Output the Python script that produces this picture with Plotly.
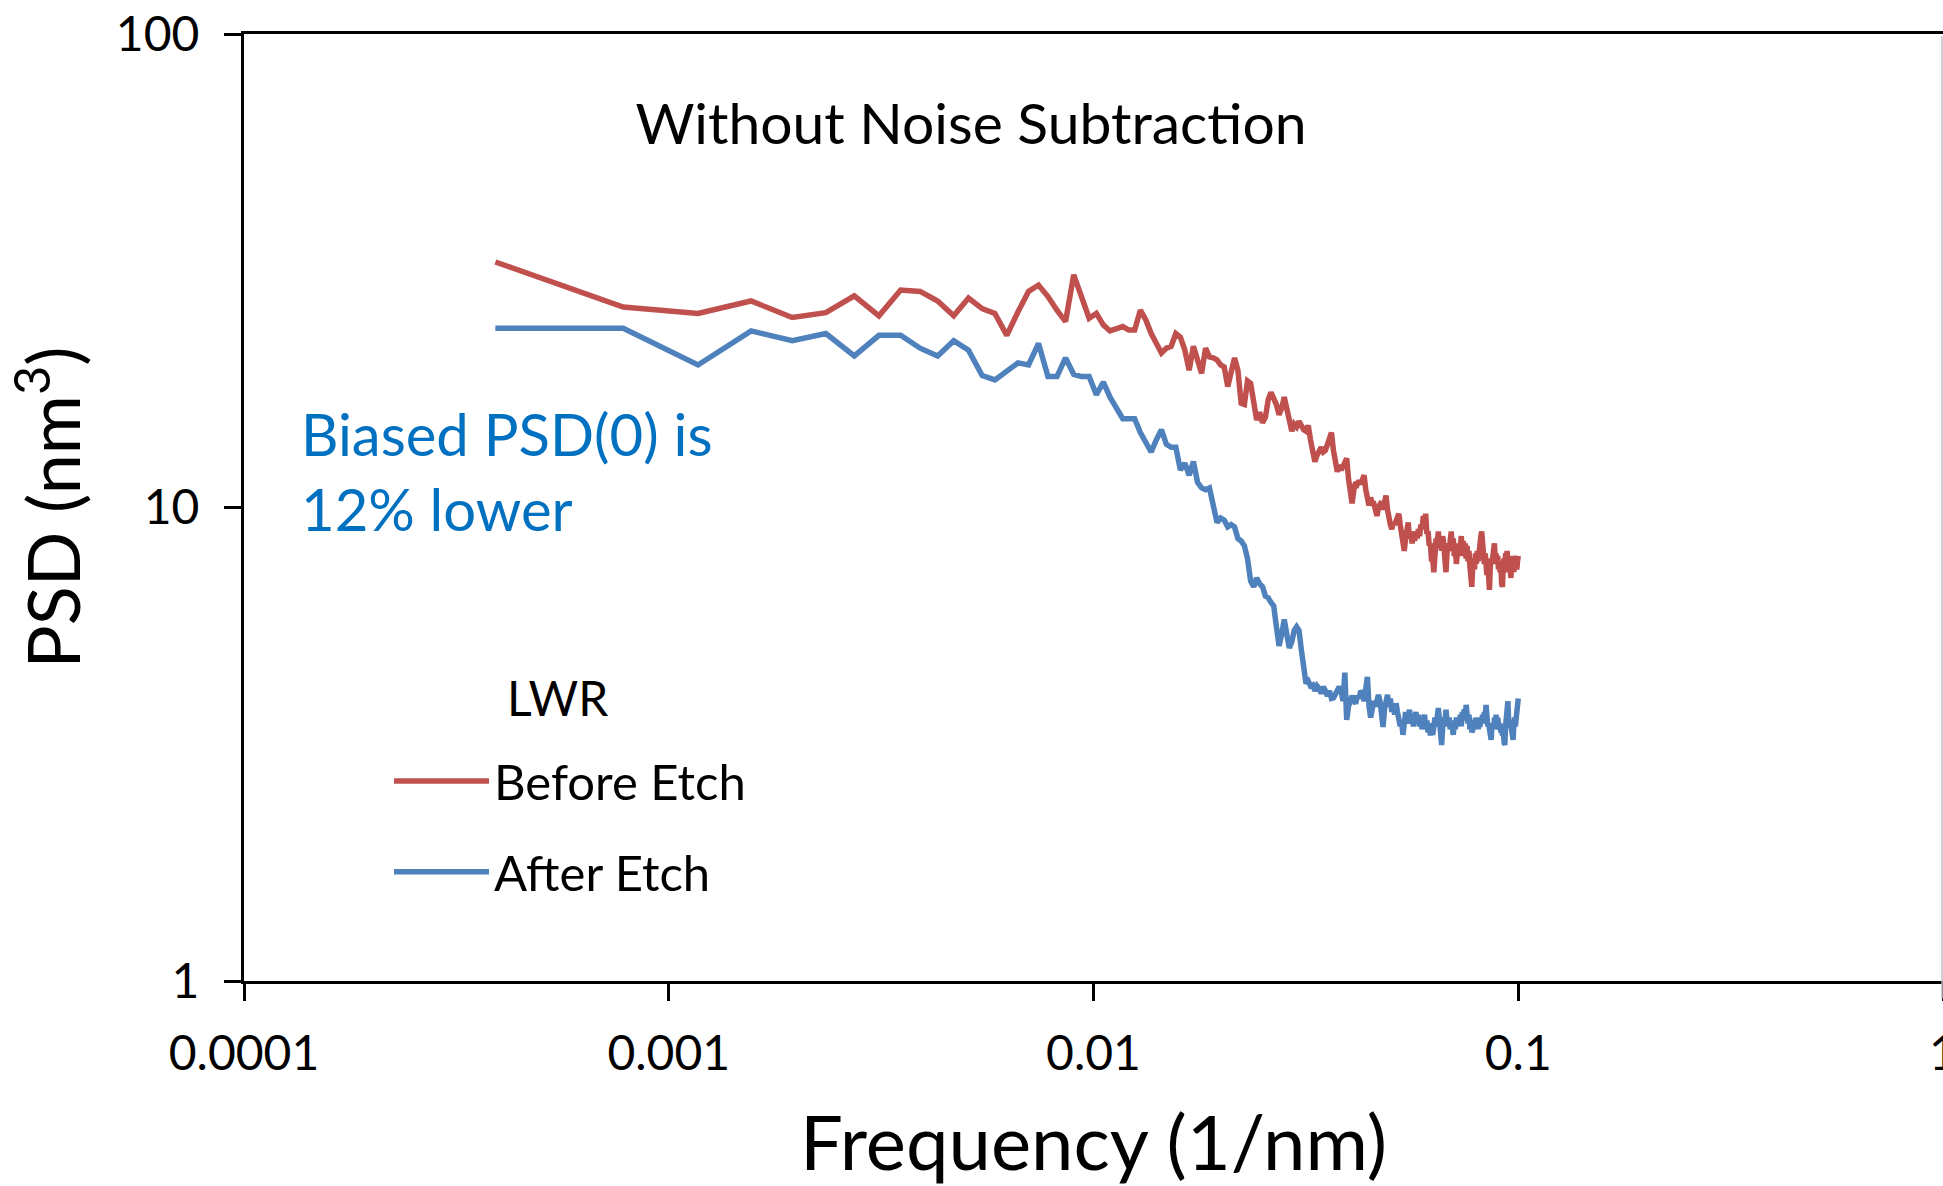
import plotly.graph_objects as go

# Spatial-frequency grid of the PSD: k / (N * dx) with N*dx = 2560 nm, k = 1..256
n_points = 256
record_length_nm = 2560.0
freq = [k / record_length_nm for k in range(1, n_points + 1)]

before_etch = [
    33.0, 26.5, 25.7, 27.3, 25.2, 25.8, 28.0, 25.4, 28.8, 28.6,
    27.3, 25.4, 27.7, 26.3, 25.7, 23.1, 25.9, 28.6, 29.5, 27.9,
    26.1, 24.7, 31.0, 27.9, 25.1, 25.7, 24.3, 23.6, 23.8, 24.1,
    23.7, 23.7, 26.1, 24.9, 23.3, 22.2, 21.2, 21.7, 21.9, 23.3,
    22.9, 21.5, 19.5, 21.9, 20.5, 19.2, 21.7, 20.8, 20.7, 20.5,
    20.0, 19.8, 18.0, 19.5, 20.7, 19.5, 16.6, 16.5, 18.5, 18.3,
    16.5, 15.3, 15.9, 15.1, 15.5, 16.9, 17.5, 17.0, 16.5, 15.7,
    16.2, 17.1, 16.1, 15.0, 14.5, 15.0, 14.8, 15.2, 14.8, 14.6,
    14.5, 14.9, 13.9, 13.1, 12.5, 12.9, 13.2, 13.4, 13.1, 13.2,
    13.6, 13.9, 14.4, 13.2, 12.3, 11.9, 12.3, 12.0, 12.2, 12.6,
    12.7, 11.5, 10.6, 10.2, 10.9, 11.3, 11.2, 11.4, 11.2, 11.5,
    11.7, 10.9, 10.4, 10.1, 10.5, 10.2, 10.2, 9.9, 9.6, 10.0,
    10.1, 10.3, 9.9, 10.4, 10.6, 9.9, 9.4, 9.2, 9.0, 9.3,
    9.2, 9.4, 9.6, 9.7, 9.2, 8.8, 8.3, 8.1, 8.6, 9.0,
    9.3, 8.6, 8.9, 8.4, 8.9, 8.5, 8.9, 8.6, 9.0, 8.7,
    9.2, 9.0, 9.6, 9.3, 9.7, 8.8, 8.9, 8.3, 8.4, 7.7,
    7.8, 7.3, 8.2, 8.6, 8.4, 8.9, 8.2, 8.6, 8.1, 8.7,
    8.3, 7.6, 7.3, 8.0, 8.4, 8.1, 8.7, 8.9, 8.2, 8.6,
    7.9, 8.3, 7.6, 8.2, 8.4, 7.9, 8.3, 8.7, 8.0, 8.5,
    7.9, 8.4, 7.8, 8.3, 7.7, 8.1, 7.5, 7.2, 6.8, 7.5,
    7.8, 7.4, 8.0, 7.6, 8.1, 7.7, 8.3, 8.2, 8.7, 8.9,
    8.2, 8.0, 7.6, 8.0, 7.4, 7.2, 7.7, 7.0, 6.7, 7.5,
    7.8, 7.6, 8.1, 7.9, 8.4, 7.7, 8.0, 7.6, 7.9, 7.4,
    7.7, 7.3, 7.5, 6.9, 6.8, 7.5, 7.8, 7.4, 8.0, 7.7,
    8.1, 7.6, 7.3, 7.8, 7.2, 7.1, 7.7, 7.4, 7.9, 7.3,
    7.9, 7.5, 7.8, 7.4, 7.7, 7.9,
]

after_etch = [
    23.9, 23.9, 20.0, 23.6, 22.5, 23.3, 20.9, 23.1, 23.1, 21.7,
    20.9, 22.5, 21.5, 19.0, 18.6, 19.4, 20.2, 20.0, 22.2, 18.9,
    18.9, 20.7, 19.1, 18.9, 18.9, 17.3, 18.4, 17.1, 16.1, 15.4,
    15.4, 15.4, 14.4, 13.7, 13.1, 13.9, 14.6, 13.6, 13.4, 13.4,
    12.0, 12.4, 11.7, 12.5, 11.3, 11.0, 10.9, 11.0, 10.2, 9.3,
    9.5, 9.4, 9.1, 9.2, 9.1, 8.6, 8.5, 8.3, 7.8, 7.0,
    6.8, 7.1, 6.9, 6.8, 6.5, 6.45, 6.3, 6.2, 5.6, 5.1,
    5.4, 5.8, 5.4, 5.05, 5.2, 5.5, 5.6, 5.5, 5.0, 4.5,
    4.25, 4.3, 4.2, 4.22, 4.1, 4.2, 4.15, 4.05, 4.18, 4.1,
    4.0, 4.1, 3.95, 3.96, 4.05, 4.1, 4.18, 4.1, 3.9, 4.48,
    3.56, 3.8, 3.9, 4.0, 3.92, 3.85, 4.0, 3.95, 4.1, 4.05,
    3.9, 4.2, 4.39, 3.8, 3.6, 3.75, 3.9, 3.8, 3.95, 4.02,
    3.9, 3.6, 3.44, 3.75, 3.9, 4.02, 3.8, 3.95, 3.7, 3.85,
    3.65, 3.86, 3.7, 3.6, 3.45, 3.55, 3.31, 3.5, 3.7, 3.5,
    3.65, 3.74, 3.5, 3.6, 3.45, 3.65, 3.7, 3.5, 3.65, 3.45,
    3.6, 3.4, 3.5, 3.65, 3.45, 3.55, 3.35, 3.5, 3.3, 3.45,
    3.31, 3.55, 3.6, 3.45, 3.7, 3.77, 3.55, 3.4, 3.15, 3.45,
    3.6, 3.5, 3.74, 3.55, 3.45, 3.6, 3.4, 3.55, 3.35, 3.31,
    3.5, 3.4, 3.6, 3.45, 3.6, 3.5, 3.65, 3.45, 3.7, 3.55,
    3.75, 3.55, 3.83, 3.6, 3.5, 3.65, 3.4, 3.55, 3.35, 3.39,
    3.55, 3.4, 3.6, 3.45, 3.6, 3.4, 3.55, 3.44, 3.6, 3.5,
    3.65, 3.5, 3.7, 3.6, 3.83, 3.55, 3.45, 3.5, 3.3, 3.4,
    3.23, 3.45, 3.5, 3.4, 3.6, 3.45, 3.65, 3.4, 3.6, 3.5,
    3.4, 3.5, 3.35, 3.45, 3.3, 3.4, 3.2, 3.15, 3.45, 3.6,
    3.75, 3.9, 3.55, 3.45, 3.55, 3.4, 3.5, 3.3, 3.23, 3.5,
    3.6, 3.45, 3.65, 3.5, 3.7, 3.95,
]

x_tickvals = [0.0001, 0.001, 0.01, 0.1, 1]
x_ticktext = ["0.0001", "0.001", "0.01", "0.1", "1"]
y_tickvals = [1, 10, 100]
y_ticktext = ["1", "10", "100"]

FONT = "Lato, 'Open Sans', sans-serif"
RED = "#C0504D"
BLUE = "#4F81BD"

# plot-area geometry (pixels)
PL, PR, PT, PB = 244, 1943, 34, 981.5
PW, PH = PR - PL, PB - PT

def px_x(px):
    return (px - PL) / PW

def px_y(py):
    return (PB - py) / PH

fig = go.Figure()
fig.add_trace(go.Scatter(x=freq, y=before_etch, mode="lines", name="Before Etch",
                         legendgroup="a", line=dict(color=RED, width=5.5)))
fig.add_trace(go.Scatter(x=freq, y=after_etch, mode="lines", name="After Etch",
                         legendgroup="b", line=dict(color=BLUE, width=5.5)))

fig.update_layout(
    width=1943, height=1186,
    margin=dict(l=244, r=0, t=34, b=204.5, autoexpand=False),
    paper_bgcolor="white", plot_bgcolor="white",
    font=dict(family=FONT, color="black", size=48),
    showlegend=True,
    legend=dict(
        x=px_x(389), y=px_y(743), xanchor="left", yanchor="top",
        bgcolor="rgba(0,0,0,0)",
        font=dict(size=49, family=FONT, color="black"),
        tracegroupgap=24,
        itemwidth=95,
    ),
    title=dict(
        text="Without Noise Subtraction",
        x=px_x(971), xref="paper", xanchor="center",
        y=1 - 124 / 1186, yref="container", yanchor="middle",
        font=dict(size=57, family=FONT, color="black"),
    ),
    annotations=[
        dict(
            text="Biased PSD(0) is<br>12% lower",
            xref="paper", yref="paper",
            x=px_x(299), y=px_y(471),
            xanchor="left", yanchor="middle", align="left",
            showarrow=False,
            font=dict(size=58, family=FONT, color="#0070C0"),
        ),
        dict(
            text="LWR",
            xref="paper", yref="paper",
            x=px_x(557), y=px_y(698),
            xanchor="center", yanchor="middle",
            showarrow=False,
            font=dict(size=48, family=FONT, color="black"),
        ),
    ],
    shapes=[dict(
        type="line", xref="paper", yref="paper",
        x0=px_x(1942), x1=px_x(1942), y0=px_y(36), y1=px_y(999),
        line=dict(color="#BFBFBF", width=1.5),
    )],
)

fig.update_xaxes(
    type="log", range=[-4, 0],
    tickvals=x_tickvals, ticktext=x_ticktext,
    ticks="outside", ticklen=17, tickwidth=2.5, tickcolor="black",
    showline=True, linecolor="black", linewidth=3, mirror=True,
    showgrid=False, zeroline=False,
    tickfont=dict(size=48, family=FONT, color="black"),
    ticklabeloverflow="allow",
    ticklabelstandoff=11,
    title=dict(text="Frequency (1/nm)", font=dict(size=76, family=FONT, color="black"), standoff=47),
)
fig.update_yaxes(
    type="log", range=[0, 2],
    tickvals=y_tickvals, ticktext=y_ticktext,
    ticks="outside", ticklen=17, tickwidth=2.5, tickcolor="black",
    showline=True, linecolor="black", linewidth=3, mirror=False,
    showgrid=False, zeroline=False,
    tickfont=dict(size=48, family=FONT, color="black"),
    ticklabelstandoff=15,
    title=dict(text="PSD (nm<sup>3</sup>)", font=dict(size=72, family=FONT, color="black"), standoff=13),
)

fig.write_html("out.html", include_plotlyjs=True,
               config={"displayModeBar": False},
               post_script="document.body.style.margin='0';document.body.style.overflow='hidden';")
